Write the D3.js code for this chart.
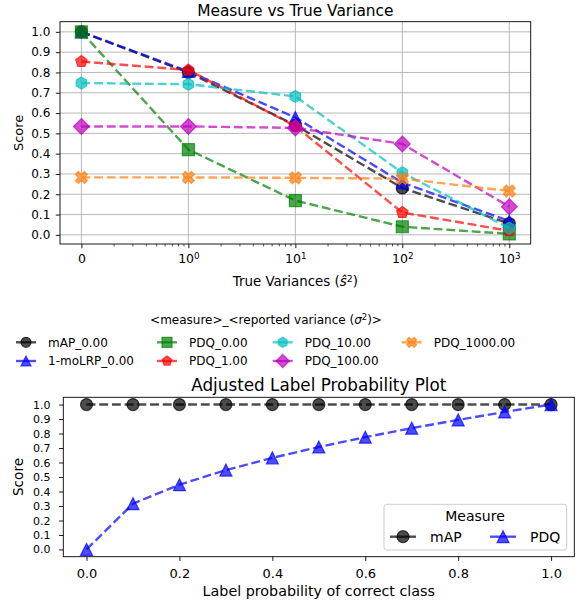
<!DOCTYPE html>
<html>
<head>
<meta charset="utf-8">
<script src="https://cdn.jsdelivr.net/npm/d3@7"></script>
<style>
  body { margin: 0; background: #fff; }
  svg text { font-family: 'DejaVu Sans', sans-serif; fill: #000; }
</style>
</head>
<body>
<div id="chart"></div>
<script>
// ---- data: top chart (score vs true variance) ----
const trueVariances = [0, 1, 10, 100, 1000]
const seriesNames = ['mAP_0.00', '1-moLRP_0.00', 'PDQ_0.00', 'PDQ_1.00', 'PDQ_10.00', 'PDQ_100.00', 'PDQ_1000.00']
const mapScores = [1.0, 0.80, 0.54, 0.231, 0.056]
const moLrpScores = [1.0, 0.805, 0.578, 0.257, 0.068]
const pdq0Scores = [1.0, 0.42, 0.169, 0.04, 0.005]
const pdq1Scores = [0.854, 0.812, 0.535, 0.11, 0.02]
const pdq10Scores = [0.748, 0.742, 0.682, 0.306, 0.033]
const pdq100Scores = [0.534, 0.534, 0.527, 0.448, 0.139]
const pdq1000Scores = [0.283, 0.283, 0.281, 0.277, 0.216]
const scoreTicks = [0, 0.1, 0.2, 0.3, 0.4, 0.5, 0.6, 0.7, 0.8, 0.9, 1.0]
const varianceTicks = [0, 1, 10, 100, 1000]

// ---- data: bottom chart (adjusted label probability) ----
const labelProbs = [0, 0.1, 0.2, 0.3, 0.4, 0.5, 0.6, 0.7, 0.8, 0.9, 1.0]
const mapLabelScores = [1, 1, 1, 1, 1, 1, 1, 1, 1, 1, 1]
const pdqLabelScores = [0, 0.316, 0.447, 0.548, 0.632, 0.707, 0.775, 0.837, 0.894, 0.949, 1.0]
const probTicks = [0, 0.2, 0.4, 0.6, 0.8, 1.0]
const measureNames = ['mAP', 'PDQ']

// styles
const seriesColors = ['#000000', '#0000ff', '#008000', '#ff0000', '#00bfbf', '#bf00bf', '#ff7f0e']
const seriesMarkers = ['circle', 'triangle', 'square', 'pentagon', 'hexagon', 'diamond', 'xfilled']
const ALPHA = 0.7
const LW = 2.4
const DASH = '8.9,3.8'

const W = 581, H = 604

// custom marker shapes (size = marker size in px)
const polygon = function (n) {
    return { draw(ctx, ms) {
        const r = ms / 2
        for (let k = 0; k < n; k++) {
            const a = -Math.PI / 2 + k * 2 * Math.PI / n
            if (k === 0) ctx.moveTo(r * Math.cos(a), r * Math.sin(a))
            else ctx.lineTo(r * Math.cos(a), r * Math.sin(a))
        }
        ctx.closePath()
    } }
}
const markerTypes = {
    circle: { draw(ctx, ms) { ctx.moveTo(ms / 2, 0); ctx.arc(0, 0, ms / 2, 0, 2 * Math.PI) } },
    triangle: { draw(ctx, ms) {
        const r = ms / 2
        ctx.moveTo(0, -r); ctx.lineTo(-r, r); ctx.lineTo(r, r); ctx.closePath()
    } },
    square: { draw(ctx, ms) { ctx.rect(-ms / 2, -ms / 2, ms, ms) } },
    pentagon: polygon(5),
    hexagon: polygon(6),
    diamond: { draw(ctx, ms) {
        const d = ms * 0.66
        ctx.moveTo(0, -d); ctx.lineTo(d, 0); ctx.lineTo(0, d); ctx.lineTo(-d, 0); ctx.closePath()
    } },
    xfilled: { draw(ctx, ms) {
        const p = [[-0.25, -0.5], [0, -0.25], [0.25, -0.5], [0.5, -0.25], [0.25, 0], [0.5, 0.25],
            [0.25, 0.5], [0, 0.25], [-0.25, 0.5], [-0.5, 0.25], [-0.25, 0], [-0.5, -0.25]]
        p.forEach((q, i) => i === 0 ? ctx.moveTo(q[0] * ms, q[1] * ms) : ctx.lineTo(q[0] * ms, q[1] * ms))
        ctx.closePath()
    } }
}

function drawMarker(g, type, color, x, y, ms) {
    g.append('path')
        .attr('d', d3.symbol().type(markerTypes[type]).size(ms)())
        .attr('transform', 'translate(' + x + ',' + y + ')')
        .attr('fill', color).attr('fill-opacity', ALPHA)
        .attr('stroke', color).attr('stroke-opacity', ALPHA)
        .attr('stroke-width', 1.2)
}

function styleAxis(g, size) {
    g.select('.domain').remove()
    g.attr('font-family', null).attr('font-size', null)
    g.selectAll('line').attr('stroke', '#000').attr('stroke-width', 0.9)
    g.selectAll('text').attr('font-size', size)
}

const svg = d3.select('#chart').append('svg')
    .attr('width', W).attr('height', H)

// ================= top chart =================
const topBox = { left: 60, top: 21.7, right: 530.7, bottom: 244 }
// symlog (linthresh 1): 0..1 linear, then one slot per decade
const toSlot = v => v <= 1 ? v : 1 + Math.log10(v)
const x1 = d3.scaleLinear().domain([-0.2, 4.2]).range([topBox.left, topBox.right])
const y1 = d3.scaleLinear().domain([-0.045, 1.05]).range([topBox.bottom, topBox.top])
const sx = v => x1(toSlot(v))

const g1 = svg.append('g')

// grid
g1.append('g').selectAll('line').data(scoreTicks).join('line')
    .attr('x1', topBox.left).attr('x2', topBox.right)
    .attr('y1', d => y1(d)).attr('y2', d => y1(d))
    .attr('stroke', '#b0b0b0').attr('stroke-width', 0.9)
g1.append('g').selectAll('line').data(varianceTicks).join('line')
    .attr('x1', d => sx(d)).attr('x2', d => sx(d))
    .attr('y1', topBox.top).attr('y2', topBox.bottom)
    .attr('stroke', '#b0b0b0').attr('stroke-width', 0.9)

const topSeries = [mapScores, moLrpScores, pdq0Scores, pdq1Scores, pdq10Scores, pdq100Scores, pdq1000Scores]
const line1 = d3.line().x((d, i) => sx(trueVariances[i])).y(d => y1(d))

topSeries.forEach(function (vals, s) {
    const sg = g1.append('g').attr('class', 'series')
    sg.append('path').datum(vals)
        .attr('d', line1)
        .attr('fill', 'none')
        .attr('stroke', seriesColors[s]).attr('stroke-opacity', ALPHA)
        .attr('stroke-width', LW).attr('stroke-dasharray', DASH)
    vals.forEach((v, i) => drawMarker(sg, seriesMarkers[s], seriesColors[s], sx(trueVariances[i]), y1(v), 12))
})

// frame
g1.append('rect')
    .attr('x', topBox.left).attr('y', topBox.top)
    .attr('width', topBox.right - topBox.left).attr('height', topBox.bottom - topBox.top)
    .attr('fill', 'none').attr('stroke', '#000').attr('stroke-width', 0.9)

// y axis
const ay1 = g1.append('g').attr('transform', 'translate(' + topBox.left + ',0)')
    .call(d3.axisLeft(y1).tickValues(scoreTicks).tickFormat(d3.format('.1f')).tickSize(4.2).tickPadding(5.5))
styleAxis(ay1, 12)

// x axis minor ticks
let minor = []
for (let k = 0; k < 4; k++) for (let m = 2; m <= 9; m++) minor.push(k + Math.log10(m))
const axm = g1.append('g').attr('transform', 'translate(0,' + topBox.bottom + ')')
    .call(d3.axisBottom(x1).tickValues(minor).tickFormat('').tickSize(2.4))
styleAxis(axm, 12)
axm.selectAll('line').attr('stroke-width', 0.7)

// x axis major ticks, labels 0, 10^0, 10^1 ...
const ax1 = g1.append('g').attr('transform', 'translate(0,' + topBox.bottom + ')')
    .call(d3.axisBottom(x1).tickValues(varianceTicks.map(toSlot)).tickFormat('').tickSize(4.2))
styleAxis(ax1, 12.5)
ax1.selectAll('.tick text').each(function (d, i) {
    const t = d3.select(this).attr('y', 0).attr('dy', null).attr('transform', 'translate(0,19)')
    const v = varianceTicks[i]
    if (v === 0) { t.text('0'); return }
    t.text('')
    t.append('tspan').text('10')
    t.append('tspan').attr('dy', '-0.42em').attr('font-size', '0.7em').text(Math.round(Math.log10(v)))
})

g1.append('text').attr('x', (topBox.left + topBox.right) / 2).attr('y', 15.5)
    .attr('text-anchor', 'middle').attr('font-size', 15.4).text('Measure vs True Variance')

const xl1 = g1.append('text').attr('x', (topBox.left + topBox.right) / 2).attr('y', 286)
    .attr('text-anchor', 'middle').attr('font-size', 13.4)
xl1.append('tspan').text('True Variances (')
xl1.append('tspan').attr('font-style', 'italic').text('ŝ')
xl1.append('tspan').attr('dy', '-0.42em').attr('font-size', '0.7em').text('2')
xl1.append('tspan').attr('dy', '0.294em').text(')')

g1.append('text').attr('transform', 'translate(23,' + (topBox.top + topBox.bottom) / 2 + ') rotate(-90)')
    .attr('text-anchor', 'middle').attr('font-size', 13).text('Score')

// ================= figure legend =================
const lg = svg.append('g')
const lt = lg.append('text').attr('x', 266).attr('y', 324).attr('text-anchor', 'middle').attr('font-size', 12)
lt.append('tspan').text('<measure>_<reported variance (')
lt.append('tspan').attr('font-style', 'italic').text('σ')
lt.append('tspan').attr('dy', '-0.42em').attr('font-size', '0.7em').text('2')
lt.append('tspan').attr('dy', '0.294em').text(')>')

const colX = [16, 157, 272.7, 401.7]
const rowY = [342.3, 361]
seriesNames.forEach(function (name, s) {
    const col = Math.floor(s / 2), row = s % 2
    const hx = colX[col], hy = rowY[row]
    lg.append('line').attr('x1', hx).attr('x2', hx + 20).attr('y1', hy).attr('y2', hy)
        .attr('stroke', seriesColors[s]).attr('stroke-opacity', ALPHA).attr('stroke-width', LW)
    drawMarker(lg, seriesMarkers[s], seriesColors[s], hx + 10, hy, 10)
    lg.append('text').attr('x', hx + 32).attr('y', hy + 4.3).attr('font-size', 12).text(name)
})

// ================= bottom chart =================
const botBox = { left: 63.3, top: 397.3, right: 574.3, bottom: 556.7 }
const x2 = d3.scaleLinear().domain([-0.05, 1.05]).range([botBox.left, botBox.right])
const y2 = d3.scaleLinear().domain([-0.05, 1.05]).range([botBox.bottom, botBox.top])
const g2 = svg.append('g')

const line2 = d3.line().x((d, i) => x2(labelProbs[i])).y(d => y2(d))
const botSeries = [mapLabelScores, pdqLabelScores]
const botColors = [seriesColors[0], seriesColors[1]]
const botMarkers = ['circle', 'triangle']
botSeries.forEach(function (vals, s) {
    const sg = g2.append('g')
    sg.append('path').datum(vals).attr('d', line2).attr('fill', 'none')
        .attr('stroke', botColors[s]).attr('stroke-opacity', ALPHA)
        .attr('stroke-width', LW).attr('stroke-dasharray', DASH)
    vals.forEach((v, i) => drawMarker(sg, botMarkers[s], botColors[s], x2(labelProbs[i]), y2(v), 12))
})

g2.append('rect')
    .attr('x', botBox.left).attr('y', botBox.top)
    .attr('width', botBox.right - botBox.left).attr('height', botBox.bottom - botBox.top)
    .attr('fill', 'none').attr('stroke', '#000').attr('stroke-width', 0.9)

const ay2 = g2.append('g').attr('transform', 'translate(' + botBox.left + ',0)')
    .call(d3.axisLeft(y2).tickValues(scoreTicks).tickFormat(d3.format('.1f')).tickSize(4.2).tickPadding(8.5))
styleAxis(ay2, 11)

const ax2 = g2.append('g').attr('transform', 'translate(0,' + botBox.bottom + ')')
    .call(d3.axisBottom(x2).tickValues(probTicks).tickFormat(d3.format('.1f')).tickSize(4.2))
styleAxis(ax2, 13)
ax2.selectAll('.tick text').attr('y', 0).attr('dy', null).attr('transform', 'translate(0,21.5)')

g2.append('text').attr('x', (botBox.left + botBox.right) / 2).attr('y', 390.5)
    .attr('text-anchor', 'middle').attr('font-size', 16.8).text('Adjusted Label Probability Plot')
g2.append('text').attr('x', (botBox.left + botBox.right) / 2).attr('y', 596)
    .attr('text-anchor', 'middle').attr('font-size', 14.3).text('Label probability of correct class')
g2.append('text').attr('transform', 'translate(23,' + (botBox.top + botBox.bottom) / 2 + ') rotate(-90)')
    .attr('text-anchor', 'middle').attr('font-size', 13.6).text('Score')

// legend inside bottom axes
const lg2 = g2.append('g')
lg2.append('rect').attr('x', 384).attr('y', 504.3).attr('width', 182.7).attr('height', 45.7)
    .attr('rx', 2.5).attr('fill', '#fff').attr('fill-opacity', 0.8)
    .attr('stroke', '#cccccc').attr('stroke-width', 1)
lg2.append('text').attr('x', 475).attr('y', 520.5).attr('text-anchor', 'middle')
    .attr('font-size', 14).text('Measure')
const hx2 = [390, 490]
measureNames.forEach(function (name, s) {
    const hy = 536.7
    lg2.append('line').attr('x1', hx2[s]).attr('x2', hx2[s] + 26).attr('y1', hy).attr('y2', hy)
        .attr('stroke', botColors[s]).attr('stroke-opacity', ALPHA).attr('stroke-width', LW)
    drawMarker(lg2, botMarkers[s], botColors[s], hx2[s] + 13, hy, 12)
    lg2.append('text').attr('x', hx2[s] + 40).attr('y', hy + 5).attr('font-size', 14).text(name)
})
</script>
</body>
</html>
